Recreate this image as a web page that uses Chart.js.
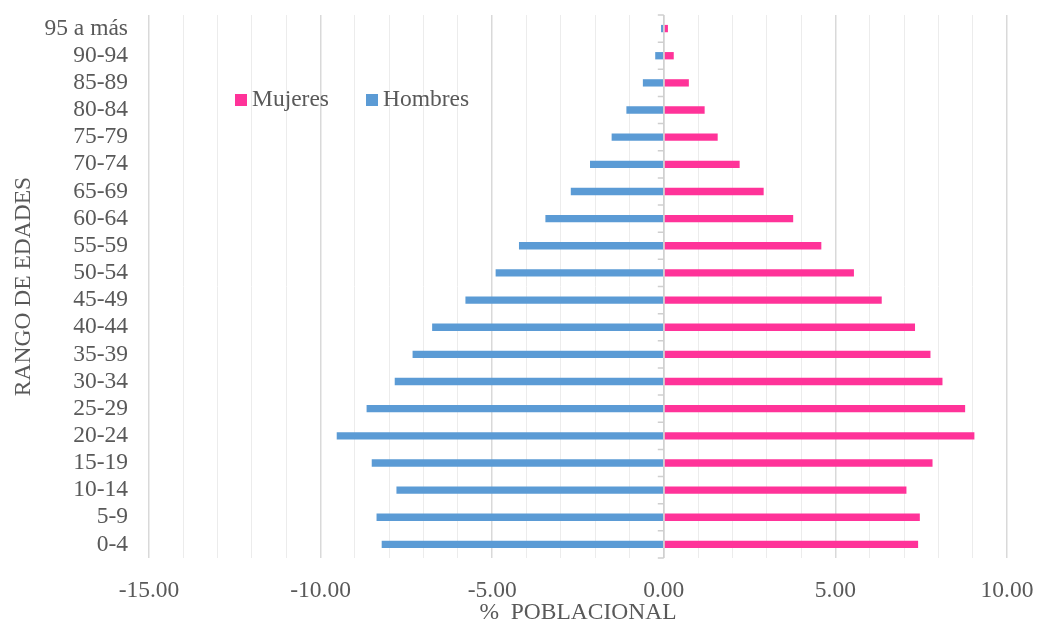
<!DOCTYPE html>
<html>
<head>
<meta charset="utf-8">
<script src="https://cdn.jsdelivr.net/npm/chart.js@4/dist/chart.umd.min.js"></script>
<style>
  body { margin: 0; background: #fff; }
  #wrap { width: 1037px; height: 623px; position: relative; }
</style>
</head>
<body>
<div id="wrap"><canvas id="myChart"></canvas></div>
<script>
// rangos de edad (de arriba hacia abajo)
const edades = ['95 a más', '90-94', '85-89', '80-84', '75-79', '70-74', '65-69', '60-64',
  '55-59', '50-54', '45-49', '40-44', '35-39', '30-34', '25-29', '20-24', '15-19', '10-14', '5-9', '0-4'];

// % poblacional
const mujeres = [0.12, 0.29, 0.73, 1.19, 1.57, 2.21, 2.91, 3.77,
  4.59, 5.54, 6.35, 7.32, 7.77, 8.12, 8.78, 9.05, 7.83, 7.07, 7.46, 7.41];
const hombres = [-0.08, -0.25, -0.61, -1.09, -1.52, -2.15, -2.71, -3.45,
  -4.22, -4.90, -5.78, -6.75, -7.32, -7.84, -8.66, -9.53, -8.51, -7.79, -8.37, -8.22];

const gris = '#595959';
const fuente = { family: "'Liberation Serif', 'Times New Roman', serif", size: 23.5 };
const fuenteTitulo = { family: fuente.family, size: 23.5, lineHeight: 0.85 };

// marcas pequenas sobre el eje en 0 + leyenda dentro del grafico
const extras = {
  id: 'extras',
  afterDatasetsDraw(chart) {
    const ctx = chart.ctx;
    const x = chart.scales.x;
    const y = chart.scales.y;
    const x0 = x.getPixelForValue(0);
    ctx.save();
    ctx.strokeStyle = '#cfcfcf';
    ctx.lineWidth = 1.5;
    ctx.beginPath();
    ctx.moveTo(x0, chart.chartArea.top);
    ctx.lineTo(x0, chart.chartArea.bottom);
    const paso = (y.getPixelForValue(1) - y.getPixelForValue(0));
    for (let i = 0; i <= edades.length; i++) {
      const py = y.getPixelForValue(i) - paso / 2;
      ctx.moveTo(x0 - 6, py);
      ctx.lineTo(x0, py);
    }
    ctx.stroke();

    // leyenda
    ctx.font = fuente.size + 'px ' + fuente.family;
    ctx.textBaseline = 'middle';
    let lx = chart.chartArea.left + 86;
    const ly = chart.chartArea.top + 85;
    chart.data.datasets.forEach(ds => {
      ctx.fillStyle = ds.backgroundColor;
      ctx.fillRect(lx, ly - 6, 12, 12);
      ctx.fillStyle = gris;
      ctx.fillText(ds.label, lx + 17, ly);
      lx += 17 + ctx.measureText(ds.label).width + 37;
    });
    ctx.restore();
  }
};

const data = {
  labels: edades,
  datasets: [
    { label: 'Mujeres', data: mujeres, backgroundColor: '#ff3399' },
    { label: 'Hombres', data: hombres, backgroundColor: '#5b9bd5' }
  ]
};

const config = {
  type: 'bar',
  data: data,
  options: {
    indexAxis: 'y',
    responsive: true,
    maintainAspectRatio: false,
    animation: false,
    layout: { padding: { top: 15, right: 30, left: 0, bottom: 0 } },
    datasets: { bar: { categoryPercentage: 1, barPercentage: 0.27 } },
    plugins: {
      legend: { display: false },
      tooltip: { enabled: false }
    },
    scales: {
      x: {
        stacked: true,
        min: -15,
        max: 10,
        border: { display: false },
        grid: {
          drawTicks: false,
          color: c => (c.tick && c.tick.value % 5 === 0) ? '#d9d9d9' : '#ececec',
          lineWidth: c => (c.tick && c.tick.value % 5 === 0) ? 1.5 : 1
        },
        ticks: {
          stepSize: 1,
          autoSkip: false,
          maxRotation: 0,
          padding: 19,
          color: gris,
          font: fuente,
          callback: v => (v % 5 === 0 ? v.toFixed(2) : '')
        },
        title: {
          display: true,
          text: '%  POBLACIONAL',
          color: gris,
          font: fuenteTitulo,
          padding: { top: 0, bottom: 0 }
        },
        afterFit: s => { s.height = 65; s.paddingLeft = 0; s.paddingRight = 0; }
      },
      y: {
        stacked: true,
        border: { display: false },
        grid: { display: false, drawTicks: false },
        ticks: { padding: 21, color: gris, font: fuente, autoSkip: false },
        title: {
          display: true,
          text: 'RANGO DE EDADES',
          color: gris,
          font: { family: fuente.family, size: 23.5, lineHeight: 1 },
          padding: { top: 12, bottom: 0 }
        },
        afterFit: s => { s.width = 149; s.paddingTop = 0; s.paddingBottom = 0; }
      }
    }
  },
  plugins: [extras]
};

const myChart = new Chart(document.getElementById('myChart'), config);
</script>
</body>
</html>
